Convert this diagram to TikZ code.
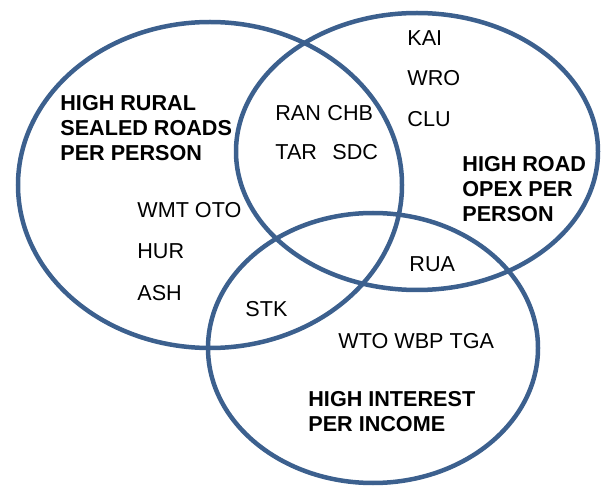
\documentclass[tikz,border=0pt]{standalone}
\usepackage{fontspec}
\setmainfont{Liberation Sans}
\definecolor{ringblue}{RGB}{60,96,142}
\begin{document}
\begin{tikzpicture}
[
    x=0.5pt, y=-0.5pt,
    ring/.style={draw=ringblue,line width=2.25pt},
    code/.style={anchor=base west,inner sep=0pt,font=\fontsize{10.8}{12.5}\selectfont},
    title/.style={code,align=left,font=\fontsize{10.8}{12.5}\selectfont\bfseries},
]
\useasboundingbox (0,0) rectangle (605,486);

\draw[ring] (210,185) ellipse [x radius=96pt, y radius=81.5pt];
\draw[ring] (417,151.5) ellipse [x radius=90.5pt, y radius=69.25pt];
\draw[ring] (373,348) ellipse [x radius=82.5pt, y radius=67.5pt];

\node (rural) at (60,161) [title] {HIGH RURAL\\SEALED ROADS\\PER PERSON};
\node (opex) at (462,222) [title] {HIGH ROAD\\OPEX PER\\PERSON};
\node (interest) at (308,431) [title] {HIGH INTEREST\\PER INCOME};

\node (ran) at (275,121) [code] {RAN};
\node (chb) at (327,121) [code] {CHB};
\node (tar) at (275,160) [code] {TAR};
\node (sdc) at (332,160) [code] {SDC};

\node (kai) at (407,46) [code] {KAI};
\node (wro) at (407,86) [code] {WRO};
\node (clu) at (407,127) [code] {CLU};

\node (wmt) at (137,218) [code] {WMT OTO};
\node (hur) at (137,259) [code] {HUR};
\node (ash) at (137,300) [code] {ASH};

\node (stk) at (245,316) [code] {STK};
\node (rua) at (409,271) [code] {RUA};
\node (wto) at (338,349) [code] {WTO WBP TGA};
\end{tikzpicture}
\end{document}
